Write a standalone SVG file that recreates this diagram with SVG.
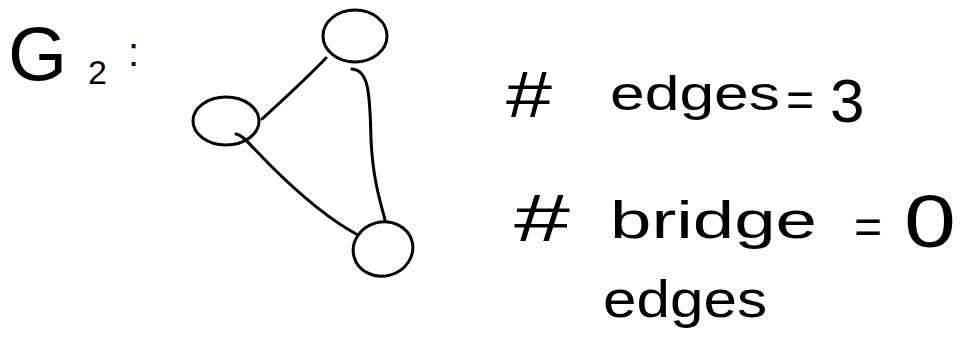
<svg xmlns="http://www.w3.org/2000/svg" width="962" height="353" viewBox="0 0 962 353">
<style>
.n{fill:none;stroke:#000;stroke-width:3}
.e{fill:none;stroke:#000;stroke-width:3;stroke-linecap:round}
.t{font-family:"Liberation Sans",Arial,sans-serif;fill:#000}
</style>
<rect width="962" height="353" fill="#fff"/>
<g id="title">
<text class="t" x="8" y="80" font-size="76">G</text>
<text class="t" x="88" y="84" font-size="34">2</text>
<text class="t" x="128" y="66" font-size="40">:</text>
</g>
<g id="connectors">
<path class="e" d="M262,119 C285,98 305,80 326,58"/>
<path class="e" d="M352,69 C368,70 370,90 371,140 C373,180 380,200 385,220"/>
<path class="e" d="M236,134 C243,135 250,145 270,165 C300,195 330,220 358,235"/>
</g>
<g id="node-top"><ellipse class="n" cx="355" cy="36" rx="32" ry="26"/></g>
<g id="node-left"><ellipse class="n" cx="226" cy="121" rx="33" ry="24"/></g>
<g id="node-bottom"><ellipse class="n" cx="383" cy="249" rx="30" ry="27" transform="rotate(-15 383 249)"/></g>
<g id="label-edges">
<text class="t" x="506" y="117" font-size="64" textLength="46" lengthAdjust="spacingAndGlyphs">#</text>
<text class="t" x="610" y="110" font-size="48" textLength="170" lengthAdjust="spacingAndGlyphs">edges</text>
<text class="t" x="786" y="116" font-size="48">=</text>
<text class="t" x="830" y="122" font-size="62">3</text>
</g>
<g id="label-bridge">
<text class="t" x="514" y="241" font-size="66" textLength="56" lengthAdjust="spacingAndGlyphs">#</text>
<text class="t" x="610" y="238" font-size="52" textLength="207" lengthAdjust="spacingAndGlyphs">bridge</text>
<text class="t" x="854" y="243" font-size="48">=</text>
<text class="t" x="904" y="247" font-size="74" textLength="52" lengthAdjust="spacingAndGlyphs">0</text>
<text class="t" x="603" y="317" font-size="52" textLength="164" lengthAdjust="spacingAndGlyphs">edges</text>
</g>
</svg>
